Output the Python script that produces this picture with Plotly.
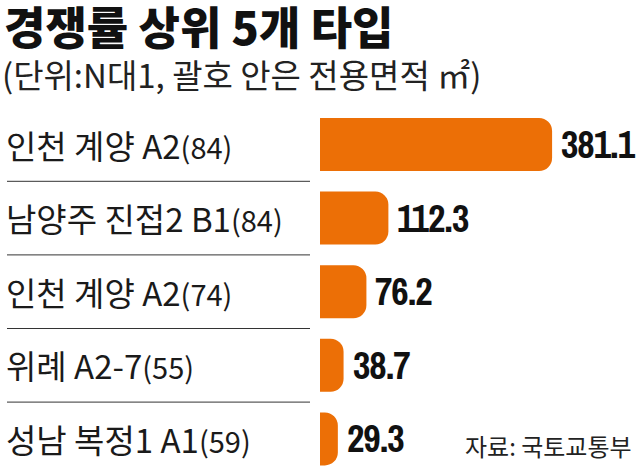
import plotly.graph_objects as go

categories = ["인천 계양 A2", "남양주 진접2 B1", "인천 계양 A2", "위례 A2-7", "성남 복정1 A1"]
areas = ["84", "84", "74", "55", "59"]
values = [381.1, 112.3, 76.2, 38.7, 29.3]
value_labels = ["381.1", "112.3", "76.2", "38.7", "29.3"]

title = "경쟁률 상위 5개 타입"
subtitle = "(단위:N대1, 괄호 안은 전용면적 ㎡)"
source = "자료: 국토교통부"

W, H = 640, 470
TOP = 100  # plot area top in px
px_per_unit = 0.609
zero_px = 320
xmin = -zero_px / px_per_unit
xmax = (W - zero_px) / px_per_unit


def py(p):
    """pixel row -> paper y (plot area spans TOP..H)"""
    return 1 - (p - TOP) / (H - TOP)


ypos = list(range(len(values)))

fig = go.Figure()
fig.add_trace(go.Bar(
    x=values, y=ypos, orientation="h",
    marker=dict(color="#EC6F06", line=dict(width=0)),
    width=0.72, hoverinfo="skip",
))

KR = "Noto Sans CJK KR"
NUM = "Archivo Narrow, Barlow Semi Condensed, sans-serif"

ann = []
for i, (c, a, v, vl) in enumerate(zip(categories, areas, values, value_labels)):
    ann.append(dict(
        x=4 / W, xref="paper", y=i, yref="y", xanchor="left", yanchor="middle",
        text=f"{c}<span style='font-size:29px'>({a})</span>", showarrow=False,
        font=dict(family=KR, size=33, color="#1a1a1a"),
    ))
    ann.append(dict(
        x=v, xref="x", y=i, yref="y", xanchor="left", yanchor="middle", xshift=7,
        text=f"<span style='letter-spacing:-1px'>{vl}</span>", showarrow=False,
        font=dict(family=NUM, size=38, color="#111111", weight="bold"),
    ))

ann.append(dict(x=2 / W, xref="paper", y=py(25), yref="paper", xanchor="left", yanchor="middle",
                text=title, showarrow=False,
                font=dict(family=KR, size=45, color="#111111", weight=900)))
ann.append(dict(x=0, xref="paper", y=py(74), yref="paper", xanchor="left", yanchor="middle",
                text=subtitle, showarrow=False,
                font=dict(family=KR, size=33, color="#222222")))
ann.append(dict(x=634 / W, xref="paper", y=py(445), yref="paper", xanchor="right", yanchor="middle",
                text=source, showarrow=False,
                font=dict(family=KR, size=24, color="#222222")))

shapes = []
for k in range(len(values) - 1):
    shapes.append(dict(type="line", xref="paper", x0=7 / W, x1=310 / W, yref="y",
                       y0=k + 0.5, y1=k + 0.5, line=dict(color="#333333", width=1)))

# bar0 center at 144.5 px, pitch 73.6 px
pitch = 73.6
c0 = 144.5
y_top = -(c0 - TOP) / pitch
y_bot = y_top + (H - TOP) / pitch

fig.update_layout(
    width=W, height=H,
    margin=dict(l=0, r=0, t=TOP, b=0),
    paper_bgcolor="white", plot_bgcolor="white",
    showlegend=False,
    barcornerradius=13,
    xaxis=dict(range=[xmin, xmax], visible=False, fixedrange=True),
    yaxis=dict(range=[y_bot, y_top], visible=False, fixedrange=True),
    annotations=ann, shapes=shapes,
)

fig.write_html("out.html", config=dict(displayModeBar=False))
